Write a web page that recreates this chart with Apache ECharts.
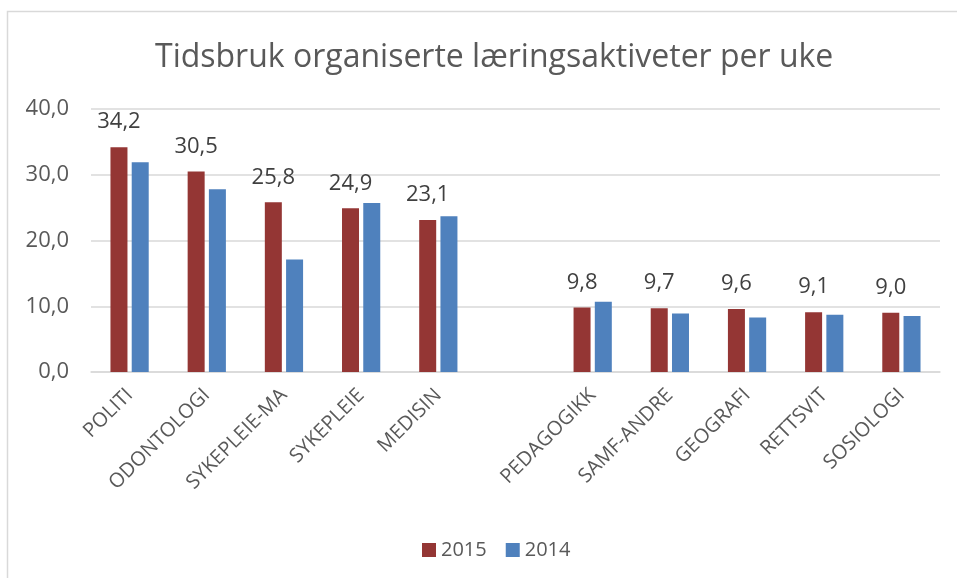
<!DOCTYPE html>
<html><head><meta charset="utf-8">
<script src="https://cdn.jsdelivr.net/npm/echarts@6/dist/echarts.min.js"></script>
<style>html,body{margin:0;padding:0;background:#fff}#c{width:957px;height:578px}</style>
</head><body><div id="c"></div>
<script>
const categories = ["POLITI","ODONTOLOGI","SYKEPLEIE-MA","SYKEPLEIE","MEDISIN","","PEDAGOGIKK","SAMF-ANDRE","GEOGRAFI","RETTSVIT","SOSIOLOGI"];
const values2015 = [34.2,30.5,25.8,24.9,23.1,null,9.8,9.7,9.6,9.1,9.0];
const values2014 = [31.9,27.8,17.1,25.7,23.7,null,10.7,8.9,8.3,8.7,8.5];
const yTicks = [0,10,20,30,40];
const font = "'Open Sans', sans-serif";
const fmt = v => v.toFixed(1).replace('.', ',');
const chart = echarts.init(document.getElementById('c'));
chart.setOption({
  animation: false,
  backgroundColor: '#fff',
  graphic: [{type:'rect', left:5, top:9, shape:{width:960, height:580}, style:{fill:'none', stroke:'#d9d9d9', lineWidth:1.5}, silent:true}],
  title: {text: 'Tidsbruk organiserte læringsaktiveter per uke', left: 150, top: 37,
    textStyle: {fontFamily: font, fontSize: 32, fontWeight: 'normal', color: '#595959'}},
  legend: {data: ['2015','2014'], top: 535, left: 417, itemWidth: 14, itemHeight: 14, itemGap: 19,
    icon: 'rect', textStyle: {fontFamily: font, fontSize: 20, color: '#595959'}},
  grid: {left: 91, right: 17, top: 109, bottom: 206, containLabel: false},
  xAxis: {type: 'category', data: categories,
    axisLine: {show: true, lineStyle: {color: '#d9d9d9', width: 1.5}}, axisTick: {show: false},
    axisLabel: {rotate: 45, interval: 0, margin: 20, fontFamily: font, fontSize: 20, color: '#595959'}},
  yAxis: {type: 'value', min: 0, max: 40, interval: 10,
    axisLine: {show: false}, axisTick: {show: false},
    splitLine: {lineStyle: {color: '#d9d9d9', width: 1.5}},
    axisLabel: {formatter: v => yTicks.includes(v) ? fmt(v) : '', margin: 22, fontFamily: font, fontSize: 22, color: '#595959'}},
  series: [
    {name: '2015', type: 'bar', data: values2015, barWidth: 17, barGap: '25%',
      itemStyle: {color: '#943634'},
      label: {show: true, position: 'top', distance: 14, formatter: p => fmt(p.value), fontFamily: font, fontSize: 22, color: '#404040'}},
    {name: '2014', type: 'bar', data: values2014, barWidth: 17,
      itemStyle: {color: '#4F81BD'}}
  ]
});
</script></body></html>
